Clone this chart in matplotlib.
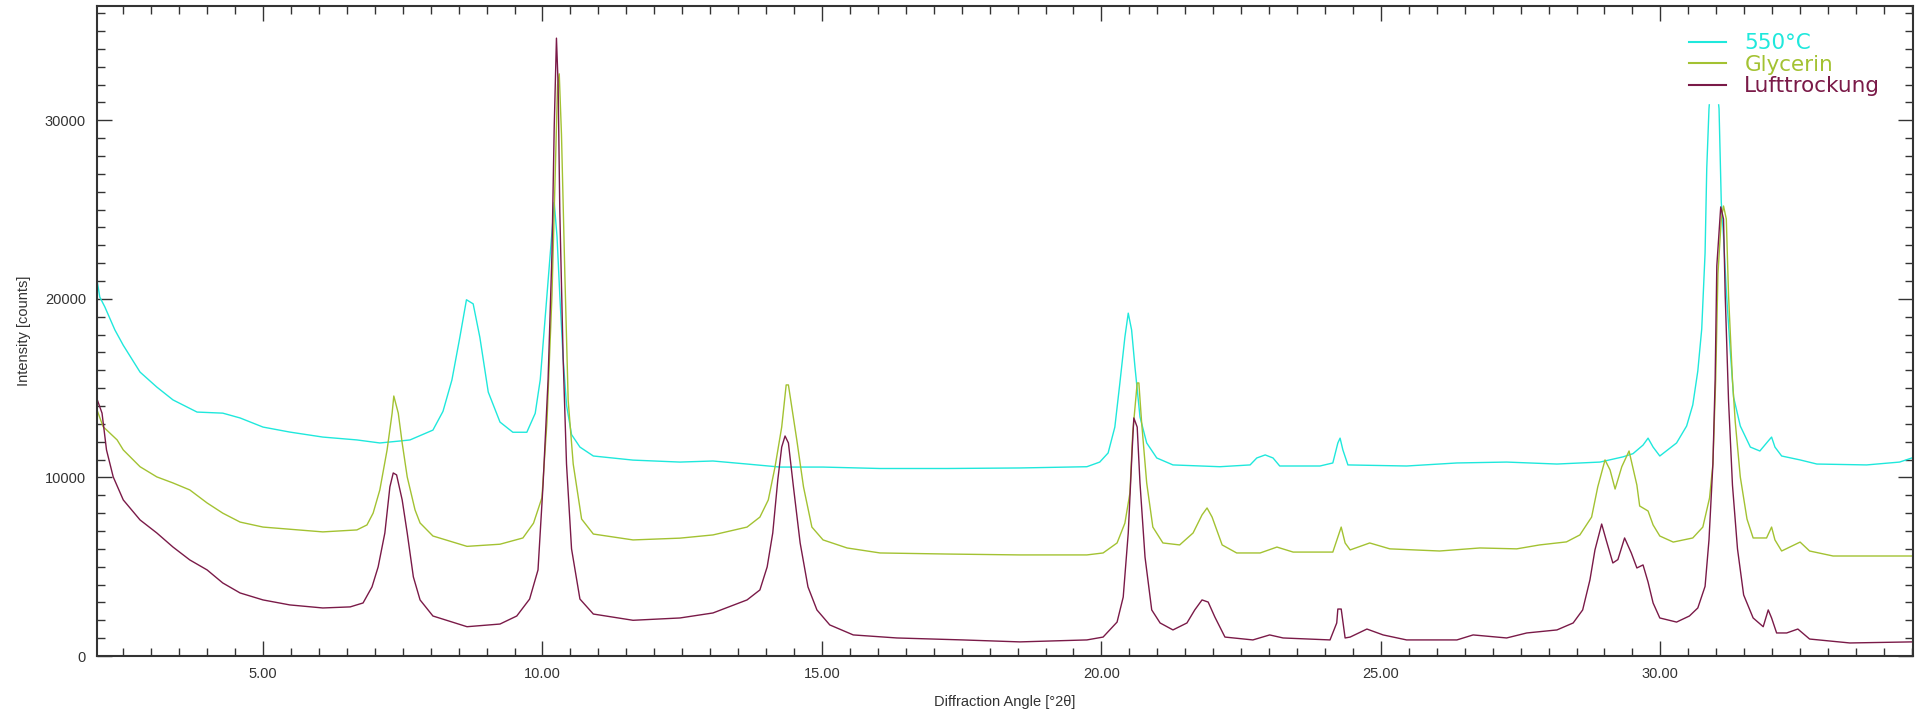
import numpy as np
import matplotlib
matplotlib.use('Agg')
import matplotlib.pyplot as plt
from matplotlib.ticker import MultipleLocator, FormatStrFormatter

# 550°C
angle_550 = [2.03, 2.08, 2.17, 2.35, 2.50, 2.80, 3.10, 3.39, 3.82, 4.28, 4.59, 5.00, 5.48, 6.07, 6.68, 7.09,
             7.45, 7.63, 8.04, 8.22, 8.38, 8.52, 8.64, 8.76, 8.88, 9.03, 9.24, 9.47, 9.72, 9.87, 9.96,
             10.08, 10.17, 10.21, 10.26, 10.31, 10.37, 10.43, 10.52, 10.67, 10.91, 11.62, 12.46, 13.05,
             13.66, 14.25, 15.02, 16.04, 17.24, 18.54, 19.74, 19.97, 20.12, 20.24, 20.33, 20.42, 20.48,
             20.54, 20.60, 20.69, 20.81, 20.99, 21.28, 22.12, 22.66, 22.78, 22.93, 23.07, 23.19, 23.91,
             24.14, 24.23, 24.27, 24.32, 24.41, 25.46, 26.36, 27.25, 28.15, 28.92, 29.33, 29.51, 29.69,
             29.78, 29.87, 29.99, 30.29, 30.47, 30.58, 30.67, 30.74, 30.80, 30.83, 30.87, 30.95, 31.05,
             31.09, 31.13, 31.18, 31.25, 31.31, 31.43, 31.61, 31.78, 31.93, 31.99, 32.05, 32.17, 32.50,
             32.80, 33.69, 34.28, 34.50]
counts_550 = [21050, 20100, 19550, 18260, 17400, 15900, 15060, 14340, 13660, 13600, 13330, 12820, 12540, 12260, 12100, 11930,
              12040, 12100, 12650, 13700, 15460, 17820, 19950, 19720, 17840, 14780, 13100, 12530, 12530, 13590, 15470,
              20200, 23740, 25400, 23500, 20200, 16640, 14060, 12400, 11700, 11200, 10970, 10860, 10920,
              10750, 10580, 10580, 10500, 10500, 10530, 10600, 10860, 11370, 12820, 15280, 17860, 19200,
              18260, 16190, 13390, 11930, 11090, 10700, 10600, 10700, 11090, 11260, 11090, 10640, 10640,
              10810, 11930, 12200, 11540, 10700, 10640, 10810, 10860, 10750, 10860, 11150, 11330, 11810,
              12200, 11700, 11200, 11930, 12880, 14060, 15960, 18310, 22570, 27300, 30640, 34000, 30640,
              25400, 23500, 20430, 17130, 14500, 12880, 11700, 11480, 12040, 12260, 11700, 11200, 10980,
              10750, 10700, 10860, 11090]

# Glycerin
angle_gly = [2.03, 2.14, 2.39, 2.50, 2.80, 3.10, 3.39, 3.69, 4.00, 4.28, 4.59, 5.00, 5.48, 6.07, 6.68, 6.86,
             6.97, 7.09, 7.22, 7.31, 7.34, 7.42, 7.49, 7.58, 7.72, 7.81, 8.04, 8.65, 9.24, 9.65, 9.84, 9.99,
             10.08, 10.17, 10.23, 10.27, 10.30, 10.34, 10.40, 10.46, 10.55, 10.70, 10.91, 11.62, 12.46,
             13.05, 13.66, 13.89, 14.04, 14.16, 14.28, 14.36, 14.40, 14.46, 14.55, 14.67, 14.82, 15.02,
             15.45, 16.04, 17.24, 18.54, 19.74, 20.03, 20.28, 20.42, 20.51, 20.56, 20.64, 20.67, 20.72,
             20.81, 20.92, 21.10, 21.40, 21.64, 21.80, 21.89, 21.98, 22.16, 22.42, 22.84, 23.14, 23.43,
             24.14, 24.23, 24.29, 24.36, 24.45, 24.80, 25.16, 26.05, 26.77, 27.43, 27.84, 28.32, 28.56,
             28.77, 28.88, 29.01, 29.10, 29.19, 29.31, 29.44, 29.58, 29.63, 29.78, 29.87, 29.99, 30.23,
             30.58, 30.76, 30.88, 30.94, 30.99, 31.03, 31.09, 31.13, 31.18, 31.22, 31.29, 31.34, 31.43,
             31.55, 31.66, 31.90, 31.99, 32.05, 32.17, 32.50, 32.67, 33.09, 34.50]
counts_gly = [13780, 12840, 12100, 11540, 10600, 10030, 9690, 9300, 8570, 8000, 7500, 7220, 7100, 6950, 7060, 7340,
              8000, 9300, 11540, 13600, 14560, 13600, 11930, 10030, 8180, 7450, 6720, 6140, 6260, 6610, 7440, 8860,
              13100, 20200, 27300, 32000, 32600, 29200, 21400, 14300, 10750, 7670, 6830, 6500, 6600,
              6780, 7220, 7780, 8740, 10580, 12820, 15180, 15180, 13950, 12100, 9470, 7220, 6500,
              6050, 5770, 5710, 5660, 5660, 5770, 6330, 7440, 9130, 12490, 15290, 15290, 13050,
              9690, 7220, 6330, 6220, 6890, 7900, 8290, 7780, 6220, 5770, 5770, 6100, 5820,
              5820, 6660, 7220, 6330, 5940, 6330, 6000, 5880, 6050, 6000, 6220, 6390, 6780,
              7780, 9470, 10980, 10420, 9350, 10600, 11480, 9570, 8400, 8120, 7340, 6720, 6380,
              6610, 7220, 8850, 10750, 15460, 21390, 24470, 25200, 24470, 20200, 15460, 13100, 10030,
              7670, 6610, 6610, 7220, 6500, 5880, 6380, 5880, 5600, 5600]

# Lufttrockung
angle_luft = [2.03, 2.12, 2.20, 2.32, 2.50, 2.80, 3.10, 3.39, 3.69, 4.00, 4.28, 4.59, 5.00, 5.48, 6.07, 6.56,
              6.79, 6.95, 7.06, 7.18, 7.27, 7.33, 7.39, 7.49, 7.58, 7.69, 7.81, 8.04, 8.65, 9.24, 9.54, 9.77,
              9.92, 10.01, 10.10, 10.17, 10.21, 10.25, 10.28, 10.31, 10.37, 10.43, 10.52, 10.67, 10.91,
              11.62, 12.46, 13.05, 13.66, 13.89, 14.02, 14.12, 14.21, 14.28, 14.34, 14.40, 14.49, 14.61,
              14.75, 14.91, 15.14, 15.56, 16.34, 17.52, 18.54, 19.74, 20.03, 20.28, 20.39, 20.48, 20.55,
              20.58, 20.64, 20.69, 20.78, 20.90, 21.05, 21.28, 21.53, 21.67, 21.80, 21.91, 22.03, 22.21,
              22.71, 23.01, 23.25, 24.09, 24.21, 24.23, 24.29, 24.36, 24.45, 24.75, 25.04, 25.46, 26.36,
              26.65, 27.25, 27.61, 28.15, 28.44, 28.61, 28.74, 28.83, 28.95, 29.03, 29.15, 29.24, 29.36,
              29.48, 29.58, 29.69, 29.78, 29.87, 29.99, 30.29, 30.52, 30.67, 30.80, 30.87, 30.94, 30.98,
              31.01, 31.08, 31.13, 31.16, 31.22, 31.29, 31.38, 31.49, 31.66, 31.84, 31.93, 31.99, 32.08,
              32.26, 32.46, 32.67, 33.39, 34.50]
counts_luft = [14390, 13600, 11540, 10030, 8740, 7620, 6890, 6100, 5380, 4820, 4090, 3530, 3140, 2860, 2690, 2750,
               2970, 3870, 4990, 6890, 9470, 10250, 10140, 8740, 6890, 4430, 3140, 2240, 1640, 1790, 2240, 3190,
               4820, 9570, 15460, 22570, 29630, 34600, 32000, 24900, 16640, 10750, 6000, 3190, 2350,
               2000, 2130, 2410, 3140, 3700, 4990, 6890, 9860, 11700, 12320, 11930, 9470, 6330,
               3870, 2580, 1740, 1180, 1010, 900, 790, 900, 1060, 1900, 3300, 6890, 11540,
               13330, 12820, 9690, 5540, 2580, 1850, 1460, 1850, 2580, 3140, 3020, 2180, 1060,
               900, 1180, 1010, 900, 1850, 2630, 2630, 1010, 1060, 1510, 1180, 900, 900,
               1180, 1010, 1290, 1460, 1850, 2580, 4260, 5940, 7390, 6500, 5210, 5400, 6610,
               5770, 4930, 5100, 4140, 2970, 2130, 1900, 2240, 2690, 3900, 6500, 10750, 15460,
               21840, 25150, 24470, 20200, 14280, 9570, 6000, 3420, 2130, 1640, 2580, 2130, 1290,
               1290, 1510, 950, 730, 790]

labels = ['550°C', 'Glycerin', 'Lufttrockung']
colors = ['#1fe8dc', '#a3c232', '#7a1a48']

plt.rcParams['font.family'] = ['Liberation Sans', 'DejaVu Sans']

fig = plt.figure(figsize=(19.2, 7.13), dpi=100)
ax = fig.add_axes([97/1920, 57/713, (1913-97)/1920, (656-6)/713])

ax.plot(angle_550, counts_550, color=colors[0], lw=1.0, label=labels[0])
ax.plot(angle_gly, counts_gly, color=colors[1], lw=1.0, label=labels[1])
ax.plot(angle_luft, counts_luft, color=colors[2], lw=1.0, label=labels[2])

ax.set_xlim(2.03, 34.52)
ax.set_ylim(0, 36400)

ax.xaxis.set_major_locator(MultipleLocator(5))
ax.xaxis.set_minor_locator(MultipleLocator(0.5))
ax.yaxis.set_major_locator(MultipleLocator(10000))
ax.yaxis.set_minor_locator(MultipleLocator(1000))
ax.xaxis.set_major_formatter(FormatStrFormatter('%.2f'))

ax.tick_params(which='both', direction='in', top=True, right=True, colors='#333333',
               labelcolor='#333333', labelsize=10.5, width=1.0)
ax.tick_params(which='major', length=11, pad=8)
ax.tick_params(which='minor', length=6)
for s in ax.spines.values():
    s.set_color('#333333')
    s.set_linewidth(1.5)

ax.set_xlabel('Diffraction Angle [°2θ]', fontsize=10.5, color='#333333', labelpad=10)
ax.set_ylabel('Intensity [counts]', fontsize=10.5, color='#333333', labelpad=10)

# legend box is opaque, it hides the top of the 31° peak like in the original
leg = ax.legend(loc='upper left', bbox_to_anchor=(1683/1920, (713-27)/713), bbox_transform=fig.transFigure,
                frameon=True, fancybox=False, framealpha=1.0, edgecolor='white', facecolor='white',
                prop={'family': 'DejaVu Sans', 'size': 15.5}, handlelength=1.7, handletextpad=0.85,
                labelspacing=0.07, borderpad=0.3, borderaxespad=0)
for txt, c in zip(leg.get_texts(), colors):
    txt.set_color(c)
for ln in leg.get_lines():
    ln.set_linewidth(1.5)

plt.savefig('out.png', dpi=100)
